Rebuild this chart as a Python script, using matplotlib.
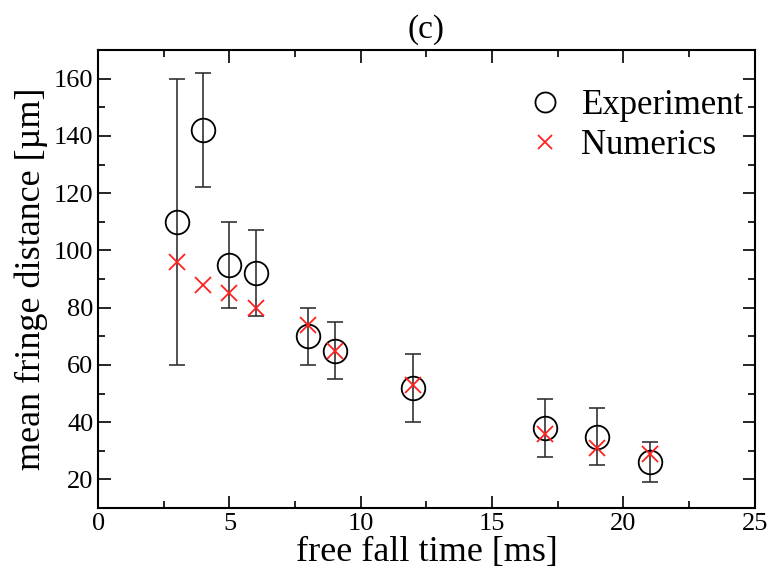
import matplotlib.pyplot as plt
from matplotlib.ticker import MultipleLocator

# free fall time [ms]
t_exp = [3, 4, 5, 6, 8, 9, 12, 17, 19, 21]
d_exp = [110, 142, 95, 92, 70, 65, 52, 38, 35, 26]
err_lo = [50, 20, 15, 15, 10, 10, 12, 10, 10, 7]
err_hi = [50, 20, 15, 15, 10, 10, 12, 10, 10, 7]

t_num = [3, 4, 5, 6, 8, 9, 12, 17, 19, 21]
d_num = [96, 88, 85, 80, 74, 65, 53, 36, 31, 29]

plt.rcParams['font.family'] = ['Liberation Serif', 'DejaVu Serif']

fig = plt.figure(figsize=(7.67, 5.69), dpi=100)
ax = fig.add_axes([0.128, 0.107, 0.856, 0.805])

ax.errorbar(t_exp, d_exp, yerr=[err_lo, err_hi], fmt='none', ecolor='#333333',
            elinewidth=1.2, capsize=6, capthick=1.2)
ax.plot(t_exp, d_exp, 'o', mfc='none', mec='black', ms=17, mew=1.3, label='Experiment')
ax.plot(t_num, d_num, 'x', color='#ff2020', ms=12, mew=1.3, label='Numerics')

ax.set_xlim(0, 25)
ax.set_ylim(10, 170)
ax.xaxis.set_major_locator(MultipleLocator(5))
ax.xaxis.set_minor_locator(MultipleLocator(2.5))
ax.yaxis.set_major_locator(MultipleLocator(20))
ax.yaxis.set_minor_locator(MultipleLocator(10))
ax.set_yticks(range(20, 161, 20))
ax.tick_params(which='both', direction='in', top=True, right=True, labelsize=19, width=1.2)
ax.tick_params(which='major', length=9)
ax.tick_params(which='minor', length=5)
for s in ax.spines.values():
    s.set_linewidth(1.5)

ax.set_xlabel('free fall time [ms]', fontsize=26, labelpad=1)
ax.set_ylabel('mean fringe distance [µm]', fontsize=26, labelpad=4)
ax.set_title('(c)', fontsize=24, pad=9)
ax.legend(loc='upper right', bbox_to_anchor=(1.015, 0.96), frameon=False, fontsize=25,
          handletextpad=0.25, borderaxespad=0.2, labelspacing=0.2, markerscale=0.85,
          handlelength=1.6)

fig.savefig('out.png', dpi=100)
